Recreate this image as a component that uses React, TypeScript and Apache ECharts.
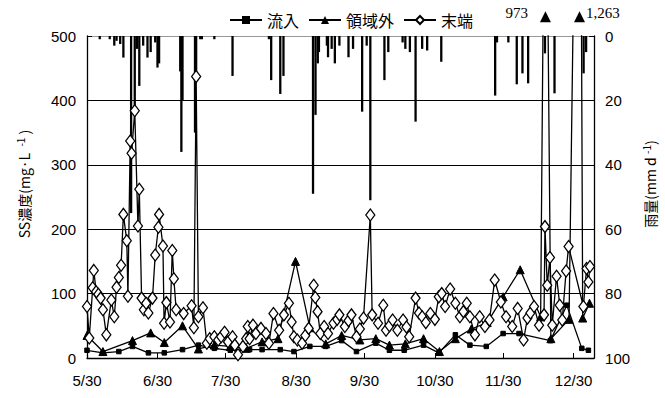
import React, { useEffect, useRef } from 'react';
import * as echarts from 'echarts';

// x positions are days counted from 5/30
const tickDays = [0, 31, 61, 92, 122, 153, 183, 214];
const tickLabels = ['5/30', '6/30', '7/30', '8/30', '9/30', '10/30', '11/30', '12/30'];

const seriesNames = ['流入', '領域外', '末端'];

const inflow: number[][] = [
  [0, 12], [7, 8], [14, 10], [20, 18], [27, 8], [34, 8], [42, 13], [49, 20], [56, 15], [63, 12],
  [71.5, 13], [77, 13], [85, 13], [91, 10], [98, 18], [105, 18], [112, 27], [118.5, 10], [127, 23],
  [133, 12], [139.5, 12], [148, 20], [154.7, 8], [162, 36], [168.4, 20], [175.6, 18], [183, 38],
  [190, 38], [203.8, 27], [211, 82], [217.6, 15], [220.5, 12],
];

const outside: number[][] = [
  [0, 35], [7, 10], [20, 27], [28, 39], [34, 24], [42, 50], [49, 14], [56, 20], [63, 18], [70, 15],
  [77, 25], [84, 30], [91.7, 150], [98, 47], [105, 22], [112, 35], [120, 28], [127, 30], [133, 20],
  [140, 22], [148, 30], [155, 10], [162, 30], [169, 45], [176, 55], [183, 95], [190.5, 137],
  [199.5, 64], [201.6, 973], [204, 30], [212, 60], [216.6, 1263], [218, 62], [221, 85],
];

const terminal: number[][] = [
  [0, 80], [1, 31], [2.5, 109], [3, 136], [4, 103], [5, 99], [6, 93], [7, 75], [8.5, 36], [10.7, 90],
  [12, 64], [13, 110], [14, 125], [15, 144], [16, 223], [17.5, 182], [18, 96], [19, 337], [19.6, 318],
  [21, 384], [22.4, 205], [23, 262], [24, 93], [25, 75], [26, 85], [27, 70], [28.8, 93], [30, 160],
  [31.4, 203], [31.7, 223], [33.4, 174], [33.9, 54], [34.9, 86], [36.5, 56], [37.5, 167], [38.2, 123],
  [39.2, 75], [42.5, 69], [46, 81], [47, 47], [48, 437], [49, 64], [51, 78], [52.7, 23], [54, 30],
  [56, 33], [57.7, 28], [59, 33], [60.5, 40], [62, 25], [64, 33], [65, 20], [66.4, 5], [68.6, 18],
  [70, 30], [70.7, 49], [71.5, 30], [73, 51], [74.3, 38], [76.5, 46], [78.7, 38], [80, 23], [82, 69],
  [84.5, 43], [86.6, 67], [88.8, 85], [90, 56], [91, 33], [92.5, 28], [94.6, 23], [96, 35], [97.5, 46],
  [99.7, 113], [100.4, 94], [101.4, 72], [102.6, 38], [104.3, 49], [106, 38], [108.4, 54], [110, 60],
  [111, 67], [113.4, 49], [115, 58], [116.3, 67], [118.5, 33], [120, 45], [121.6, 62], [124.6, 222],
  [125.4, 67], [128, 54], [130.3, 82], [131.5, 43], [133, 50], [134.4, 59], [136.5, 43], [139, 59],
  [140.5, 48], [141.7, 33], [144.5, 93], [146, 70], [147.4, 64], [149, 55], [151, 69], [153, 60],
  [154.7, 95], [156, 100], [157.5, 80], [159.7, 107], [162, 85], [164, 64], [165.5, 72], [167, 85],
  [168.4, 64], [170.6, 36], [172.7, 64], [175, 49], [177, 59], [179.3, 121], [182, 87], [184.3, 64],
  [187, 49], [189.4, 77], [192, 28], [193.7, 62], [195, 70], [196.6, 80], [198.8, 51], [201, 67],
  [201.4, 204], [202.4, 113], [203.6, 156], [204.6, 51], [206.5, 127], [207.9, 82], [209, 59],
  [210.7, 135], [211.8, 173], [218.3, 80], [219.7, 139], [220.5, 118], [221.2, 142],
];

const rain: number[][] = [
  [5.6, 1], [10, 1], [12, 3], [13, 1.5], [14.6, 2.5], [16, 6.7], [19.4, 55], [21, 23], [22, 4],
  [23, 15.5], [24.7, 3], [26.6, 6.7], [28, 5], [30, 2], [31, 9.8], [31.7, 8.5], [41, 11], [41.5, 36],
  [42, 20], [47.5, 30], [48, 13], [49.8, 1], [50.5, 1], [56, 1], [64, 12.4], [80, 1], [81, 13.7],
  [85, 18], [86.4, 12.4], [99.4, 49], [100.5, 24.5], [101.5, 8.5], [102, 5], [105.5, 3], [106, 6.6],
  [107.6, 4], [109, 8.5], [111, 3], [115, 6.6], [117, 4], [121, 23.5], [123, 3], [124.6, 51],
  [130.8, 13.7], [132.5, 5], [138.8, 2], [140, 4], [142, 5], [144.5, 26.6], [147.4, 4], [149.6, 4.5],
  [155.8, 8], [179.5, 18.5], [180.3, 2], [185.3, 2], [189, 15], [191.5, 11.6], [194, 14.7],
  [201.4, 5.4], [205.6, 17.8], [218.4, 11.6], [219.5, 5],
];

const Y_MAX = 500;
const OVERFLOW_Y = 530;

export default function App() {
  const ref = useRef<HTMLDivElement>(null);

  useEffect(() => {
    if (!ref.current) return;
    const chart = echarts.init(ref.current, undefined, { renderer: 'svg' });

    const overflow = outside
      .filter((p) => p[1] > Y_MAX)
      .map((p, i) => ({
        value: [p[0], OVERFLOW_Y, p[1]],
        label: {
          show: true,
          position: i === 0 ? 'left' : 'right',
          distance: i === 0 ? 12 : 1,
          offset: [0, -4],
          formatter: () => p[1].toLocaleString('en-US'),
          fontFamily: 'Liberation Serif',
          fontSize: 15,
          color: '#000',
          opacity: 1,
        },
      }));

    const numFont = { fontFamily: 'Liberation Sans', fontSize: 15, color: '#000' };
    const lineBase = {
      type: 'line' as const,
      xAxisIndex: 0,
      yAxisIndex: 0,
      lineStyle: { color: '#000', width: 1.3 },
      itemStyle: { color: '#000', borderColor: '#000' },
      z: 3,
    };
    const nameStyle = {
      fontFamily: 'Noto Sans CJK JP',
      fontSize: 14,
      color: '#000',
      padding: [0, 0, 0, 26],
      rich: { sup: { fontSize: 10, verticalAlign: 'top', padding: [0, 0, 8, 0] } },
    };

    chart.setOption({
      animation: false,
      backgroundColor: '#fff',
      grid: { left: 87, right: 65, top: 36, bottom: 40, containLabel: false },
      legend: {
        data: seriesNames,
        top: 7,
        left: 224,
        itemWidth: 32,
        itemHeight: 10,
        itemGap: 9,
        textStyle: { fontFamily: 'Noto Sans CJK JP', fontSize: 16, color: '#000' },
      },
      xAxis: {
        type: 'value',
        min: 0,
        max: 223,
        axisLine: { lineStyle: { color: '#000', width: 1.3 } },
        axisTick: { inside: true, length: 5, customValues: tickDays, lineStyle: { color: '#000' } },
        axisLabel: {
          ...numFont,
          margin: 15,
          customValues: tickDays,
          formatter: (v: number) => tickLabels[tickDays.indexOf(Math.round(v))] ?? '',
        },
        splitLine: { show: false },
      },
      yAxis: [
        {
          type: 'value',
          min: 0,
          max: Y_MAX,
          interval: 100,
          axisLine: { show: true, lineStyle: { color: '#000', width: 1.3 } },
          axisTick: { show: true, inside: true, length: 5, lineStyle: { color: '#000' } },
          axisLabel: { ...numFont, margin: 11 },
          splitLine: {
            show: true,
            lineStyle: { color: ['#000', '#000', '#000', '#000', '#000', '#999'], width: 1 },
          },
          name: 'SS濃度(mg·L  {sup|-1} )',
          nameLocation: 'middle',
          nameGap: 54,
          nameRotate: 90,
          nameTextStyle: nameStyle,
        },
        {
          type: 'value',
          min: 0,
          max: 100,
          interval: 20,
          inverse: true,
          position: 'right',
          axisLine: { show: true, lineStyle: { color: '#000', width: 1.3 } },
          axisTick: { show: true, inside: true, length: 5, lineStyle: { color: '#000' } },
          axisLabel: { ...numFont, margin: 11 },
          splitLine: { show: false },
          name: '雨量(mm d {sup|-1})',
          nameLocation: 'middle',
          nameGap: 36,
          nameRotate: 90,
          nameTextStyle: nameStyle,
        },
      ],
      series: [
        {
          name: '雨量',
          type: 'bar',
          xAxisIndex: 0,
          yAxisIndex: 1,
          barWidth: 2.3,
          itemStyle: { color: '#000' },
          data: rain,
          z: 1,
        },
        {
          ...lineBase,
          name: seriesNames[0],
          symbol: 'rect',
          symbolSize: 4.5,
          data: inflow,
        },
        {
          ...lineBase,
          name: seriesNames[1],
          symbol: 'triangle',
          symbolSize: 8,
          data: outside,
        },
        {
          ...lineBase,
          name: seriesNames[2],
          symbol: 'diamond',
          symbolSize: [9, 12],
          itemStyle: { color: '#fff', borderColor: '#000', borderWidth: 1.3 },
          data: terminal,
          z: 4,
        },
        {
          name: 'overflow',
          type: 'scatter',
          xAxisIndex: 0,
          yAxisIndex: 0,
          symbol: 'triangle',
          symbolSize: 11,
          itemStyle: { color: '#000', opacity: 1 },
          clip: false,
          data: overflow,
          z: 5,
        },
      ],
    });

    return () => chart.dispose();
  }, []);

  return (
    <div
      ref={ref}
      style={{ position: 'fixed', left: 0, top: 0, width: 665, height: 398, background: '#fff' }}
    />
  );
}
